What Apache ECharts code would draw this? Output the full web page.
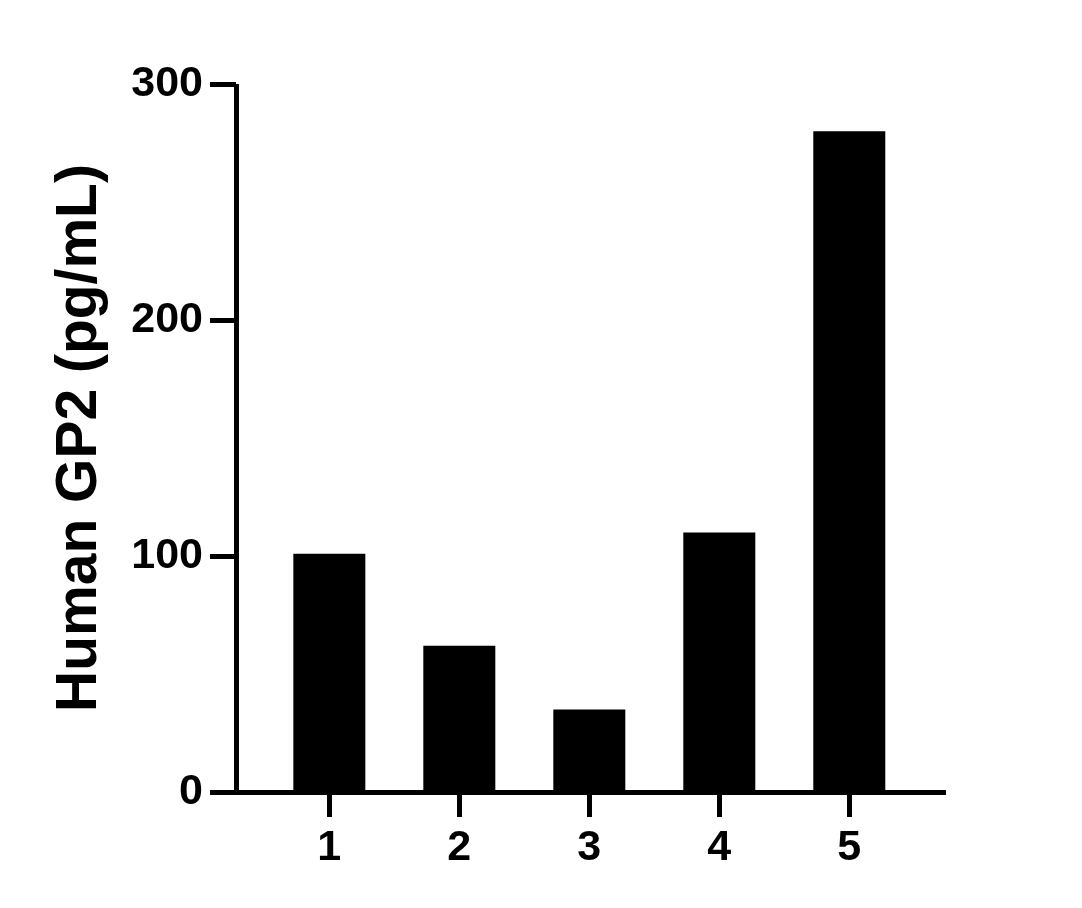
<!DOCTYPE html>
<html>
<head>
<meta charset="utf-8">
<script src="https://cdn.jsdelivr.net/npm/echarts@6/dist/echarts.min.js"></script>
<style>
html,body{margin:0;padding:0;background:#fff;}
#c{width:1082px;height:908px;}
</style>
</head>
<body>
<div id="c"></div>
<script>
const categories = ['1', '2', '3', '4', '5'];
const values = [101, 62, 35, 110, 280];
const yTicks = [0, 100, 200, 300];
const yTitle = 'Human GP2 (pg/mL)';

const positions = categories.map((c, i) => i + 1);
const barData = positions.map((p, i) => [p, values[i]]);
const FONT = '"Liberation Sans", Arial, Helvetica, sans-serif';

const chart = echarts.init(document.getElementById('c'), null, {renderer: 'canvas'});
chart.setOption({
  animation: false,
  backgroundColor: '#ffffff',
  grid: {left: 236, right: 136, top: 84, bottom: 116, containLabel: false},
  xAxis: {
    type: 'value',
    min: 0.282,
    max: 5.744,
    splitLine: {show: false},
    axisLine: {show: true, onZero: false, lineStyle: {color: '#000', width: 5, cap: 'butt'}},
    axisTick: {show: true, length: 25, customValues: positions, lineStyle: {color: '#000', width: 5}},
    axisLabel: {
      show: true, customValues: positions, margin: 35,
      color: '#000', fontSize: 43, fontWeight: 'bold', fontFamily: FONT,
      formatter: v => categories[Math.round(v) - 1] || ''
    }
  },
  yAxis: {
    type: 'value',
    min: 0,
    max: 300,
    interval: 100,
    splitLine: {show: false},
    axisLine: {show: true, lineStyle: {color: '#000', width: 5, cap: 'butt'}},
    axisTick: {show: true, length: 26, lineStyle: {color: '#000', width: 5}},
    axisLabel: {
      margin: 33, color: '#000', fontSize: 43, fontWeight: 'bold', fontFamily: FONT,
      formatter: v => yTicks.indexOf(v) >= 0 ? String(v) : ''
    },
    name: yTitle,
    nameLocation: 'middle',
    nameRotate: 90,
    nameGap: 127,
    nameTextStyle: {color: '#000', fontSize: 57, fontWeight: 'bold', fontFamily: FONT}
  },
  series: [{
    type: 'bar',
    data: barData,
    barWidth: 72,
    itemStyle: {color: '#000'},
    z: 1
  }]
});
</script>
</body>
</html>
